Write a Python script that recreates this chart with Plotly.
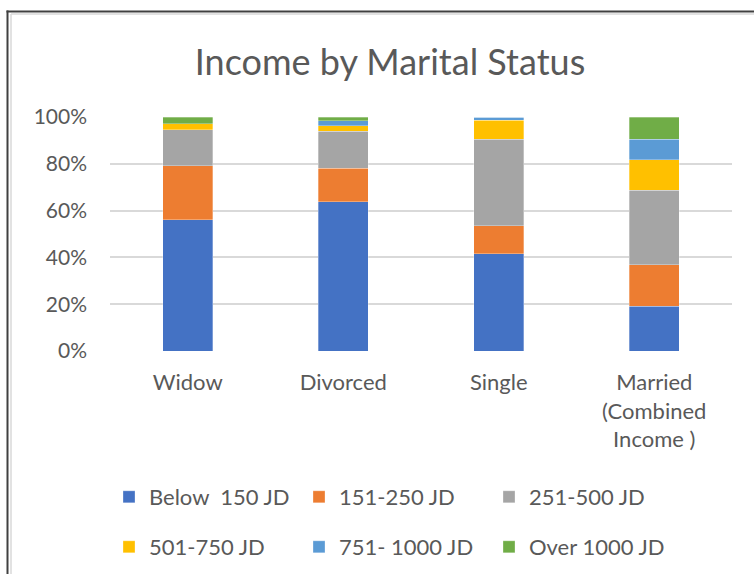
import plotly.graph_objects as go

categories = ["Widow", "Divorced", "Single", "Married<br>(Combined<br>Income )"]
series_names = ["Below  150 JD", "151-250 JD", "251-500 JD", "501-750 JD", "751- 1000 JD", "Over 1000 JD"]
below_150 = [56.1, 63.7, 41.6, 19.1]
r151_250 = [23.0, 14.5, 12.0, 17.7]
r251_500 = [15.5, 15.8, 37.0, 31.9]
r501_750 = [2.6, 2.3, 8.0, 13.1]
r751_1000 = [0.0, 2.0, 1.4, 8.8]
over_1000 = [2.8, 1.7, 0.0, 9.4]
y_ticks = [0, 20, 40, 60, 80, 100]
y_tick_labels = ["0%", "20%", "40%", "60%", "80%", "100%"]

series_values = [below_150, r151_250, r251_500, r501_750, r751_1000, over_1000]
colors = ["#4472C4", "#ED7D31", "#A5A5A5", "#FFC000", "#5B9BD5", "#70AD47"]

W, H = 754, 574
L, R, T, B = 110, 732, 117, 351

def px(x):
    return (x - L) / (R - L)

def py(y):
    return (B - y) / (B - T)

FONT = "Lato"
TXT = "#595959"

fig = go.Figure()
for i, (name, vals) in enumerate(zip(series_names, series_values)):
    fig.add_trace(go.Bar(
        x=categories, y=vals, name=name,
        marker=dict(color=colors[i], line=dict(color="rgba(255,255,255,0.5)", width=0.6)),
        legend="legend" if i < 3 else "legend2",
    ))

fig.update_layout(
    width=W, height=H,
    margin=dict(l=L, r=W - R, t=T, b=H - B, autoexpand=False),
    barmode="stack",
    bargap=0.68,
    plot_bgcolor="white", paper_bgcolor="white",
    font=dict(family=FONT, color=TXT, size=22),
    title=dict(text="Income by Marital Status", x=390 / W, xanchor="center",
               y=1 - 62 / H, yanchor="middle", font=dict(size=36, color=TXT, family=FONT)),
    xaxis=dict(showline=False, ticks="", tickfont=dict(size=22, color=TXT), ticklabelstandoff=16),
    yaxis=dict(range=[0, 100], tickvals=y_ticks, ticktext=y_tick_labels, showgrid=True,
               gridcolor="#D9D9D9", gridwidth=1.5, zeroline=False, showline=False,
               tickfont=dict(size=21, color=TXT), ticklabelstandoff=22),
    legend=dict(orientation="h", x=px(109), xanchor="left", y=py(497), yanchor="middle",
                entrywidth=145, entrywidthmode="pixels", font=dict(size=22, color=TXT),
                traceorder="normal", bgcolor="rgba(0,0,0,0)"),
    legend2=dict(orientation="h", x=px(109), xanchor="left", y=py(547), yanchor="middle",
                 entrywidth=145, entrywidthmode="pixels", font=dict(size=22, color=TXT),
                 traceorder="normal", bgcolor="rgba(0,0,0,0)"),
    shapes=[
        dict(type="line", xref="paper", yref="paper", x0=px(7.5), x1=px(7.5), y0=py(10.5), y1=py(H + 5),
             line=dict(color="#404040", width=2)),
        dict(type="line", xref="paper", yref="paper", x0=px(6.5), x1=px(W + 5), y0=py(11.5), y1=py(11.5),
             line=dict(color="#404040", width=2)),
        dict(type="line", xref="paper", yref="paper", x0=px(11), x1=px(11), y0=py(14), y1=py(H + 5),
             line=dict(color="#D9D9D9", width=1.5)),
        dict(type="line", xref="paper", yref="paper", x0=px(11), x1=px(W + 5), y0=py(14), y1=py(14),
             line=dict(color="#D9D9D9", width=1.5)),
    ],
)

fig.write_html("out.html", config={"displayModeBar": False},
               post_script="document.body.style.margin='0';document.body.style.overflow='hidden';")
